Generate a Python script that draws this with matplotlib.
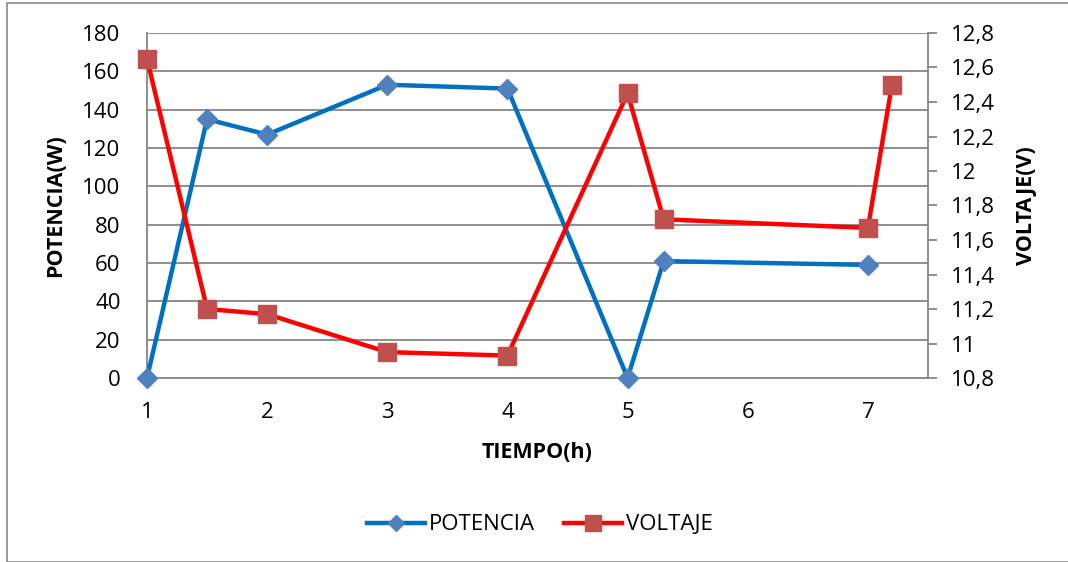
import matplotlib.pyplot as plt
from matplotlib.patches import Rectangle
from matplotlib.ticker import FuncFormatter

# -- data
tiempo = [1, 1.5, 2, 3, 4, 5, 5.3, 7]
potencia = [0, 135, 127, 153, 151, 0, 61, 59]
tiempo_v = [1, 1.5, 2, 3, 4, 5, 5.3, 7, 7.2]
voltaje = [12.65, 11.2, 11.17, 10.95, 10.93, 12.45, 11.72, 11.67, 12.5]

plt.rcParams['font.family'] = ['Open Sans', 'DejaVu Sans']
grid_col = '#868686'

fig = plt.figure(figsize=(10.68, 5.62), dpi=100)
# chart frame
fig.patches.append(Rectangle((7 / 1068, 0), 1.2, (562 - 3) / 562, transform=fig.transFigure,
                             fill=False, edgecolor='#888888', linewidth=1.2))

ax = fig.add_axes([147 / 1068, (562 - 378) / 562, (928 - 147) / 1068, (378 - 33) / 562])
ax2 = ax.twinx()

l1, = ax.plot(tiempo, potencia, color='#0070C0', linewidth=3.2, marker='D', markersize=9.7,
              markerfacecolor='#4F81BD', markeredgecolor='#4F81BD', label='POTENCIA',
              zorder=3, clip_on=False)
l2, = ax2.plot(tiempo_v, voltaje, color='#FF0000', linewidth=3.2, marker='s', markersize=13.5,
               markerfacecolor='#C0504D', markeredgecolor='#C0504D', label='VOLTAJE',
               zorder=3, clip_on=False)

ax.set_xlim(1, 7.5)
ax.set_ylim(0, 180)
ax.set_yticks(range(0, 181, 20))
ax.set_xticks(range(1, 8))
ax2.set_ylim(10.8, 12.8)
ax2.set_yticks([10.8 + 0.2 * i for i in range(11)])
ax2.yaxis.set_major_formatter(FuncFormatter(lambda v, p: ('%.1f' % v).rstrip('0').rstrip('.').replace('.', ',')))

ax.grid(axis='y', color=grid_col, linewidth=1.3)
ax.set_axisbelow(True)
for s in ['top', 'right']:
    ax.spines[s].set_visible(False)
for s in ['top', 'left', 'bottom']:
    ax2.spines[s].set_visible(False)
for s in ['left', 'bottom']:
    ax.spines[s].set_color(grid_col)
    ax.spines[s].set_linewidth(1.3)
ax2.spines['right'].set_color(grid_col)
ax2.spines['right'].set_linewidth(1.3)

ax.tick_params(axis='x', length=0, labelsize=16, pad=17.5)
ax.tick_params(axis='y', length=0, labelsize=16, pad=19)
ax2.tick_params(axis='y', length=6.5, width=1.3, color=grid_col, labelsize=16, pad=10)

ax.set_xlabel('TIEMPO(h)', fontsize=15.5, fontweight='bold', va='center')
ax.set_ylabel('POTENCIA(W)', fontsize=15.5, fontweight='bold', va='center')
ax2.set_ylabel('VOLTAJE(V)', fontsize=15.5, fontweight='bold', va='center')
ax.xaxis.set_label_coords(0.5, -0.2145)
ax.yaxis.set_label_coords(-0.1165, 0.5)
ax2.yaxis.set_label_coords(1.1255, 0.5)

fig.legend([l1, l2], ['POTENCIA', 'VOLTAJE'], loc='center', bbox_to_anchor=(540 / 1068, 1 - 525 / 562),
           ncol=2, frameon=False, fontsize=16, handlelength=2.6, columnspacing=1.3,
           handletextpad=0.2, markerscale=0.85)

plt.savefig('out.png', dpi=100)
